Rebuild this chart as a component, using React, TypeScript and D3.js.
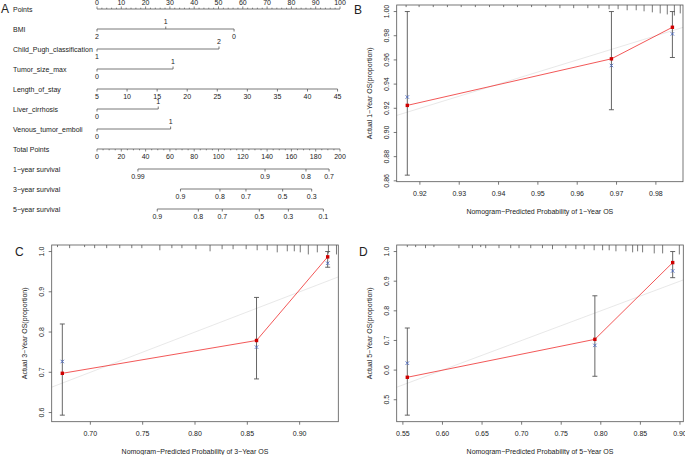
import React from 'react';
import * as d3 from 'd3';

// ---------------- Panel A: nomogram ----------------
const rowLabels = [
  'Points', 'BMI', 'Child_Pugh_classification', 'Tumor_size_max', 'Length_of_stay',
  'Liver_cirrhosis', 'Venous_tumor_emboli', 'Total Points',
  '1\u2212year survival', '3\u2212year survival', '5\u2212year survival',
];
const pointsMajor = d3.range(0, 101, 10);
const pointsMinor = d3.range(0, 101, 2);
const bmiLabels = ['2', '1', '0'];
const bmiPoints = [0, 28.3, 56.4];
const childPughLabels = ['1', '2'];
const childPughPoints = [0, 50.2];
const tumorSizeLabels = ['0', '1'];
const tumorSizePoints = [0, 31.3];
const lengthOfStayValues = [5, 10, 15, 20, 25, 30, 35, 40, 45];
const lengthOfStayRange = [5, 45];
const liverLabels = ['0', '1'];
const liverPoints = [0, 25.2];
const venousLabels = ['0', '1'];
const venousPoints = [0, 30.3];
const totalMajor = d3.range(0, 201, 20);
const totalMinor = d3.range(0, 201, 5);
const surv1Labels = ['0.99', '0.9', '0.8', '0.7'];
const surv1Total = [33.7, 138.3, 172.0, 191.0];
const surv3Labels = ['0.9', '0.8', '0.7', '0.5', '0.3'];
const surv3Total = [68.7, 101.2, 122.6, 152.8, 176.7];
const surv5Labels = ['0.9', '0.8', '0.7', '0.5', '0.3', '0.1'];
const surv5Total = [49.6, 83.4, 103.1, 133.6, 157.5, 186.3];

// ---------------- Calibration data ----------------
// B: 1-year
const bPred = [0.9168, 0.9687, 0.9842];
const bObs = [0.9224, 0.9609, 0.987];
const bLo = [0.8647, 0.9188, 0.962];
const bHi = [1.0, 1.0, 1.0];
const bCorr = [0.9293, 0.9554, 0.9815];
const bXTicks = [0.92, 0.93, 0.94, 0.95, 0.96, 0.97, 0.98];
const bYTicks = [0.86, 0.88, 0.9, 0.92, 0.94, 0.96, 0.98, 1.0];
const bRug = [0.9165, 0.9198, 0.9234, 0.927, 0.9305, 0.9341, 0.9377, 0.9413, 0.9448, 0.9484, 0.952, 0.9556, 0.9591, 0.9627, 0.9655, 0.9681, 0.9704, 0.9727, 0.975, 0.977, 0.9791, 0.9811, 0.9829, 0.9847, 0.9862];
const bRugN = [2, 2, 2, 2, 2, 2, 2, 2, 2, 2, 2, 3, 3, 3, 3, 4, 4, 5, 5, 6, 7, 8, 9, 10, 8];

// C: 3-year
const cPred = [0.6732, 0.8588, 0.9268];
const cObs = [0.6975, 0.779, 0.9868];
const cLo = [0.5935, 0.6835, 0.961];
const cHi = [0.82, 0.886, 1.0];
const cCorr = [0.7268, 0.7625, 0.971];
const cXTicks = [0.7, 0.75, 0.8, 0.85, 0.9];
const cYTicks = [0.6, 0.7, 0.8, 0.9, 1.0];
const cRug = [0.6686, 0.6802, 0.6945, 0.7041, 0.7156, 0.7281, 0.7396, 0.7492, 0.7664, 0.7779, 0.7875, 0.8009, 0.8144, 0.8259, 0.8364, 0.8489, 0.8594, 0.869, 0.8786, 0.8882, 0.8949, 0.9006, 0.9083, 0.9169, 0.9275, 0.9352];
const cRugN = [2, 3, 2, 3, 3, 3, 3, 3, 5, 3, 3, 4, 6, 4, 4, 4, 5, 5, 7, 6, 6, 7, 9, 7, 8, 9];

// D: 5-year
const dPred = [0.5556, 0.7925, 0.8908];
const dObs = [0.5758, 0.7038, 0.9627];
const dLo = [0.448, 0.5792, 0.9118];
const dHi = [0.742, 0.8507, 1.0];
const dCorr = [0.6234, 0.6834, 0.9345];
const dXTicks = [0.55, 0.6, 0.65, 0.7, 0.75, 0.8, 0.85, 0.9];
const dYTicks = [0.5, 0.6, 0.7, 0.8, 0.9, 1.0];
const dRug = [0.5556, 0.5661, 0.5786, 0.5892, 0.6208, 0.6378, 0.6483, 0.6546, 0.6714, 0.6862, 0.6967, 0.7115, 0.7263, 0.739, 0.7558, 0.7685, 0.779, 0.7916, 0.8023, 0.8106, 0.8191, 0.8317, 0.8402, 0.8465, 0.8528, 0.8675, 0.8781, 0.8992];
const dRugN = [2, 2, 3, 2, 3, 3, 2, 3, 3, 3, 3, 3, 3, 4, 3, 4, 4, 5, 5, 5, 6, 6, 7, 6, 7, 8, 8, 9];

const FONT = '"Liberation Sans", Arial, Helvetica, sans-serif';
const TXT = '#222';
const AX = '#555';

function Nomogram() {
  const x0 = 97, x1 = 340;
  const xPts = d3.scaleLinear().domain([0, 100]).range([x0, x1]);
  const xTot = d3.scaleLinear().domain([0, 200]).range([x0, x1]);
  const xLos = d3.scaleLinear().domain(lengthOfStayRange).range([xPts(0), xPts(99)]);
  const rowY = d3.scaleLinear().domain([0, 10]).range([9, 209]);
  const fs = 7;

  const catAxis = (i: number, labels: string[], pts: number[]) => {
    const y = rowY(i);
    const xs = pts.map((p) => xPts(p));
    return (
      <g key={'cat' + i}>
        <line x1={d3.min(xs)} x2={d3.max(xs)} y1={y} y2={y} stroke={AX} strokeWidth={0.8} />
        {labels.map((l, k) => {
          const above = k % 2 === 1;
          return (
            <g key={k}>
              <line x1={xs[k]} x2={xs[k]} y1={y} y2={above ? y - 2.5 : y + 2.5} stroke={AX} strokeWidth={0.8} />
              <text x={xs[k]} y={above ? y - 5 : y + 9.5} textAnchor="middle" fontSize={fs} fill={TXT}>{l}</text>
            </g>
          );
        })}
      </g>
    );
  };

  const survAxis = (i: number, labels: string[], tot: number[]) => {
    const y = rowY(i);
    const xs = tot.map((t) => xTot(t));
    return (
      <g key={'s' + i}>
        <line x1={d3.min(xs)} x2={d3.max(xs)} y1={y} y2={y} stroke={AX} strokeWidth={0.8} />
        {labels.map((l, k) => (
          <g key={k}>
            <line x1={xs[k]} x2={xs[k]} y1={y} y2={y + 2.5} stroke={AX} strokeWidth={0.8} />
            <text x={xs[k]} y={y + 9.5} textAnchor="middle" fontSize={fs} fill={TXT}>{l}</text>
          </g>
        ))}
      </g>
    );
  };

  return (
    <g fontFamily={FONT}>
      <text x={1} y={13} fontSize={12} fill={TXT}>A</text>
      {rowLabels.map((l, i) => (
        <text key={l} x={13} y={rowY(i) + 2.5} fontSize={fs} fill={TXT}>{l}</text>
      ))}
      {/* Points axis */}
      <g>
        <line x1={xPts(0)} x2={xPts(100)} y1={rowY(0)} y2={rowY(0)} stroke={AX} strokeWidth={0.8} />
        {pointsMinor.map((p) => (
          <line key={p} x1={xPts(p)} x2={xPts(p)} y1={rowY(0)} y2={rowY(0) - (p % 10 === 0 ? 2.5 : 1.3)} stroke={AX} strokeWidth={0.7} />
        ))}
        {pointsMajor.map((p) => (
          <text key={p} x={xPts(p)} y={rowY(0) - 4.5} textAnchor="middle" fontSize={fs} fill={TXT}>{p}</text>
        ))}
      </g>
      {catAxis(1, bmiLabels, bmiPoints)}
      {catAxis(2, childPughLabels, childPughPoints)}
      {catAxis(3, tumorSizeLabels, tumorSizePoints)}
      {/* Length of stay */}
      <g>
        <line x1={xLos(5)} x2={xLos(45)} y1={rowY(4)} y2={rowY(4)} stroke={AX} strokeWidth={0.8} />
        {lengthOfStayValues.map((v) => (
          <g key={v}>
            <line x1={xLos(v)} x2={xLos(v)} y1={rowY(4)} y2={rowY(4) + 2.5} stroke={AX} strokeWidth={0.8} />
            <text x={xLos(v)} y={rowY(4) + 9.5} textAnchor="middle" fontSize={fs} fill={TXT}>{v}</text>
          </g>
        ))}
      </g>
      {catAxis(5, liverLabels, liverPoints)}
      {catAxis(6, venousLabels, venousPoints)}
      {/* Total points */}
      <g>
        <line x1={xTot(0)} x2={xTot(200)} y1={rowY(7)} y2={rowY(7)} stroke={AX} strokeWidth={0.8} />
        {totalMinor.map((p) => (
          <line key={p} x1={xTot(p)} x2={xTot(p)} y1={rowY(7)} y2={rowY(7) + (p % 20 === 0 ? 2.5 : 1.3)} stroke={AX} strokeWidth={0.7} />
        ))}
        {totalMajor.map((p) => (
          <text key={p} x={xTot(p)} y={rowY(7) + 9.5} textAnchor="middle" fontSize={fs} fill={TXT}>{p}</text>
        ))}
      </g>
      {survAxis(8, surv1Labels, surv1Total)}
      {survAxis(9, surv3Labels, surv3Total)}
      {survAxis(10, surv5Labels, surv5Total)}
    </g>
  );
}

type CalProps = {
  box: { l: number; r: number; t: number; b: number };
  pred: number[]; obs: number[]; lo: number[]; hi: number[]; corr: number[];
  rug: number[]; rugN: number[];
  xTicks: number[]; yTicks: number[]; xDec: number; yDec: number;
  xTitle: string; yTitle: string; letter: string; lx: number; ly: number;
};

function Calib(p: CalProps) {
  const { box } = p;
  const xe = d3.extent(p.pred) as [number, number];
  const ye = [d3.min(p.lo) as number, d3.max(p.hi) as number];
  const xpad = (xe[1] - xe[0]) * 0.04;
  const ypad = (ye[1] - ye[0]) * 0.04;
  const x = d3.scaleLinear().domain([xe[0] - xpad, xe[1] + xpad]).range([box.l, box.r]);
  const y = d3.scaleLinear().domain([ye[0] - ypad, ye[1] + ypad]).range([box.b, box.t]);
  const [dx0, dx1] = x.domain();
  const [dy0, dy1] = y.domain();
  const i0 = Math.max(dx0, dy0), i1 = Math.min(dx1, dy1);
  const line = d3.line<number>().x((_, i) => x(p.pred[i])).y((d) => y(d));
  const fs = 7;
  return (
    <g fontFamily={FONT}>
      <text x={p.lx} y={p.ly} fontSize={12} fill={TXT}>{p.letter}</text>
      {/* ideal line */}
      <line x1={x(i0)} y1={y(i0)} x2={x(i1)} y2={y(i1)} stroke="#e2e2e2" strokeWidth={0.8} />
      {/* rug */}
      {p.rug.map((v, i) => (
        <line key={'r' + i} x1={x(v)} x2={x(v)} y1={box.t} y2={box.t + p.rugN[i] * 1.05} stroke={AX} strokeWidth={0.8} />
      ))}
      {/* error bars */}
      {p.pred.map((v, i) => (
        <g key={'e' + i} stroke="#555" strokeWidth={0.9}>
          <line x1={x(v)} x2={x(v)} y1={y(p.lo[i])} y2={y(p.hi[i])} />
          <line x1={x(v) - 2.5} x2={x(v) + 2.5} y1={y(p.lo[i])} y2={y(p.lo[i])} />
          <line x1={x(v) - 2.5} x2={x(v) + 2.5} y1={y(p.hi[i])} y2={y(p.hi[i])} />
        </g>
      ))}
      <path d={line(p.obs) || ''} fill="none" stroke="#f04545" strokeWidth={0.9} />
      {p.pred.map((v, i) => (
        <rect key={'o' + i} x={x(v) - 1.7} y={y(p.obs[i]) - 1.7} width={3.4} height={3.4} fill="#d00000" />
      ))}
      {p.pred.map((v, i) => {
        const cx = x(v), cy = y(p.corr[i]), s = 1.7;
        return (
          <g key={'c' + i} stroke="#4a68c0" strokeWidth={0.9}>
            <line x1={cx - s} y1={cy - s} x2={cx + s} y2={cy + s} />
            <line x1={cx - s} y1={cy + s} x2={cx + s} y2={cy - s} />
          </g>
        );
      })}
      {/* box */}
      <rect x={box.l} y={box.t} width={box.r - box.l} height={box.b - box.t} fill="none" stroke={AX} strokeWidth={0.8} />
      {/* x axis */}
      {p.xTicks.map((t) => (
        <g key={'x' + t}>
          <line x1={x(t)} x2={x(t)} y1={box.b} y2={box.b + 3} stroke={AX} strokeWidth={0.8} />
          <text x={x(t)} y={box.b + 14} textAnchor="middle" fontSize={fs} fill={TXT}>{t.toFixed(p.xDec)}</text>
        </g>
      ))}
      <text x={(box.l + box.r) / 2} y={box.b + 32} textAnchor="middle" fontSize={fs} fill={TXT}>{p.xTitle}</text>
      {/* y axis */}
      {p.yTicks.map((t) => (
        <g key={'y' + t}>
          <line x1={box.l} x2={box.l - 3} y1={y(t)} y2={y(t)} stroke={AX} strokeWidth={0.8} />
          <text transform={`translate(${box.l - 8},${y(t)}) rotate(-90)`} textAnchor="middle" fontSize={fs} fill={TXT}>{t.toFixed(p.yDec)}</text>
        </g>
      ))}
      <text transform={`translate(${box.l - 25},${(box.t + box.b) / 2}) rotate(-90)`} textAnchor="middle" fontSize={fs} fill={TXT}>{p.yTitle}</text>
    </g>
  );
}

export default function App() {
  return (
    <svg width={685} height={455} viewBox="0 0 685 455" style={{ position: 'absolute', left: 0, top: 0, background: '#fff' }}>
      <rect width={685} height={455} fill="#fff" />
      <Nomogram />
      <Calib box={{ l: 396.7, r: 683, t: 5, b: 181.7 }} pred={bPred} obs={bObs} lo={bLo} hi={bHi} corr={bCorr}
        rug={bRug} rugN={bRugN} xTicks={bXTicks} yTicks={bYTicks} xDec={2} yDec={2}
        xTitle={'Nomogram\u2212Predicted Probability of 1\u2212Year OS'} yTitle={'Actual 1\u2212Year OS(proportion)'}
        letter="B" lx={354} ly={14} />
      <Calib box={{ l: 51.7, r: 338.3, t: 245, b: 421.7 }} pred={cPred} obs={cObs} lo={cLo} hi={cHi} corr={cCorr}
        rug={cRug} rugN={cRugN} xTicks={cXTicks} yTicks={cYTicks} xDec={2} yDec={1}
        xTitle={'Nomogram\u2212Predicted Probability of 3\u2212Year OS'} yTitle={'Actual 3\u2212Year OS(proportion)'}
        letter="C" lx={15} ly={256} />
      <Calib box={{ l: 396.7, r: 683.3, t: 245, b: 421.7 }} pred={dPred} obs={dObs} lo={dLo} hi={dHi} corr={dCorr}
        rug={dRug} rugN={dRugN} xTicks={dXTicks} yTicks={dYTicks} xDec={2} yDec={1}
        xTitle={'Nomogram\u2212Predicted Probability of 5\u2212Year OS'} yTitle={'Actual 5\u2212Year OS(proportion)'}
        letter="D" lx={359} ly={256} />
    </svg>
  );
}
